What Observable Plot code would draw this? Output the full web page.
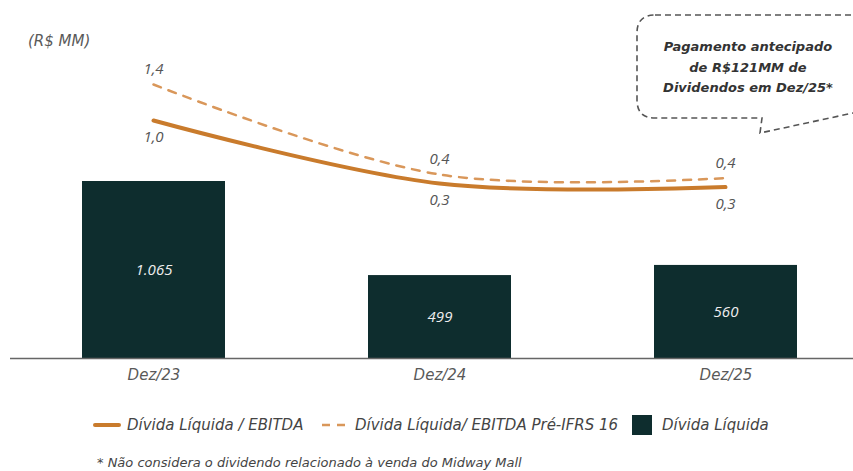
<!DOCTYPE html>
<html>
<head>
<meta charset="utf-8">
<script src="https://cdn.jsdelivr.net/npm/d3@7"></script>
<script src="https://cdn.jsdelivr.net/npm/@observablehq/plot@0.6"></script>
<style>
  html, body { margin: 0; padding: 0; background: #fff; }
  #wrap { position: relative; width: 853px; height: 471px; overflow: hidden; font-family: "DejaVu Sans", sans-serif; font-style: italic; }
  .layer { position: absolute; left: 0; top: 0; }
  #unit { position: absolute; left: 28px; top: 32px; font-size: 15px; color: #5a5a5a; }
  #legend { position: absolute; left: 0; top: 414px; width: 853px; height: 22px; font-size: 15px; color: #444; }
  #legend .item { position: absolute; top: 0; height: 22px; display: flex; align-items: center; white-space: nowrap; }
  #note { position: absolute; left: 97px; top: 455px; font-size: 13px; color: #444; white-space: nowrap; }
</style>
</head>
<body>
<div id="wrap">
  <div id="bars" class="layer"></div>
  <div id="lines" class="layer"></div>
  <svg class="layer" width="853" height="160" id="callout">
    <path d="M 655 15 L 868 15 L 868 112 L 853 113 L 760 133 L 762 118 L 655 118 Q 637 118 637 100 L 637 33 Q 637 15 655 15 Z"
      fill="none" stroke="#555" stroke-width="1.6" stroke-dasharray="6,4"/>
    <g font-family="DejaVu Sans, sans-serif" font-style="italic" font-weight="bold" font-size="13" fill="#333" text-anchor="middle">
      <text x="748" y="51">Pagamento  antecipado</text>
      <text x="748" y="72">de R$121MM de</text>
      <text x="748" y="92">Dividendos em Dez/25*</text>
    </g>
  </svg>
  <div id="unit">(R$ MM)</div>
  <div id="legend"></div>
  <div id="note">* Não considera o dividendo relacionado à venda do Midway Mall</div>
</div>
<script>
const categories = ["Dez/23", "Dez/24", "Dez/25"];
const dividaLiquida = [1065, 499, 560];
const dividaLabels = ["1.065", "499", "560"];
const alavancagem = [1.0, 0.30, 0.26];
const alavancagemLabels = ["1,0", "0,3", "0,3"];
const alavancagemPre = [1.4, 0.40, 0.36];
const alavancagemPreLabels = ["1,4", "0,4", "0,4"];
const seriesNames = ["Dívida Líquida / EBITDA", "Dívida Líquida/ EBITDA Pré-IFRS 16", "Dívida Líquida"];

const colBar = "#0e2d2e";
const colSolid = "#c97b2c";
const colDash = "#d9975a";
const font = "DejaVu Sans, sans-serif";
const numFont = "Open Sans, sans-serif";

const bars = categories.map((c, i) => ({cat: c, v: dividaLiquida[i], label: dividaLabels[i]}));
const solid = categories.map((c, i) => ({cat: c, v: alavancagem[i], label: alavancagemLabels[i]}));
const dashed = categories.map((c, i) => ({cat: c, v: alavancagemPre[i], label: alavancagemPreLabels[i]}));

const W = 853, H = 395;
const xScale = {domain: categories, range: [10, 868], paddingInner: 0.5, paddingOuter: 0.25};

const p1 = Plot.plot({
  width: W, height: H,
  marginLeft: 10, marginRight: 0, marginTop: 0, marginBottom: 37,
  style: {fontFamily: font, background: "transparent", overflow: "visible"},
  x: {...xScale},
  y: {domain: [0, 1065], range: [358, 181], axis: null},
  marks: [
    Plot.barY(bars, {x: "cat", y: "v", fill: colBar}),
    Plot.text(bars, {x: "cat", y: d => d.v / 2, text: "label", fill: "#eeeeee", fontSize: 15, fontStyle: "italic", fontFamily: numFont}),
    Plot.ruleY([0], {stroke: "#666", strokeWidth: 1.6}),
    Plot.axisX({tickSize: 0, tickPadding: 11, fontSize: 15, fontStyle: "italic", color: "#595959", label: null})
  ]
});
document.getElementById("bars").appendChild(p1);

const p2 = Plot.plot({
  width: W, height: H,
  marginLeft: 10, marginRight: 0, marginTop: 0, marginBottom: 37,
  style: {fontFamily: font, background: "transparent", overflow: "visible"},
  x: {...xScale, axis: null},
  y: {domain: [0, 1], range: [210, 120], axis: null},
  marks: [
    Plot.line(dashed, {x: "cat", y: "v", stroke: colDash, strokeWidth: 2.5, strokeDasharray: "8,8", curve: "catmull-rom"}),
    Plot.line(solid, {x: "cat", y: "v", stroke: colSolid, strokeWidth: 4, curve: "catmull-rom", strokeLinecap: "round"}),
    Plot.text(dashed, {x: "cat", y: "v", text: "label", dy: -15, fill: "#555", fontSize: 15, fontStyle: "italic", fontFamily: numFont}),
    Plot.text(solid, {x: "cat", y: "v", text: "label", dy: 17, fill: "#555", fontSize: 15, fontStyle: "italic", fontFamily: numFont})
  ]
});
document.getElementById("lines").appendChild(p2);

// legend
const leg = document.getElementById("legend");
const swatches = [
  `<svg width="28" height="10"><line x1="2" y1="5" x2="26" y2="5" stroke="${colSolid}" stroke-width="4" stroke-linecap="round"/></svg>`,
  `<svg width="26" height="10"><line x1="1" y1="5" x2="25" y2="5" stroke="${colDash}" stroke-width="2.5" stroke-dasharray="8,7"/></svg>`,
  `<svg width="20" height="20"><rect width="20" height="20" fill="${colBar}"/></svg>`
];
const lefts = [93, 321, 632];
const textGap = [6, 8, 10];
seriesNames.forEach((n, i) => {
  const d = document.createElement("div");
  d.className = "item";
  d.style.left = lefts[i] + "px";
  d.innerHTML = swatches[i] + `<span style="margin-left:${textGap[i]}px">${n}</span>`;
  leg.appendChild(d);
});
</script>
</body>
</html>
